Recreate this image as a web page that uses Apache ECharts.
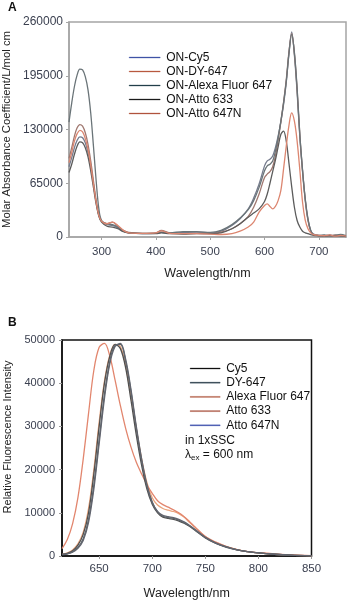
<!DOCTYPE html>
<html>
<head>
<meta charset="utf-8">
<script src="https://cdn.jsdelivr.net/npm/echarts@6/dist/echarts.min.js"></script>
<style>
  html, body { margin: 0; padding: 0; background: #fff; }
  #chart { width: 353px; height: 603px; }
</style>
</head>
<body>
<div id="chart"></div>
<script>
// 吸收光谱 (A)
var wlA = [240, 245, 250, 255, 260, 265, 270, 275, 280, 285, 290, 295, 300, 310, 320, 330, 340, 350, 375, 400,
  410, 425, 450, 475, 500, 520, 540, 555, 570, 580, 590, 600, 605, 610, 615, 620, 625, 630, 635, 640,
  645, 650, 655, 660, 665, 670, 675, 680, 685, 690, 700, 710, 720, 730, 740, 750];
var namesA = ['ON-Cy5', 'ON-DY-647', 'ON-Alexa Fluor 647', 'ON-Atto 633', 'ON-Atto 647N'];
var cy5A = [85000, 96000, 108000, 117000, 121000, 120000, 114000, 102000, 86000, 64000, 42000, 26000, 19000, 15000, 14000, 11000, 7000, 5000, 4000, 4500,
  5500, 4500, 5500, 6000, 5000, 7000, 14000, 22000, 34000, 47000, 64000, 86000, 92000, 94000, 98000, 108000, 122000, 139000, 160000, 187000,
  222000, 248000, 220000, 175000, 121000, 80000, 45000, 21000, 8000, 3500, 2000, 1500, 2500, 1500, 2000, 1000];
var dy647A = [95000, 108000, 122000, 132000, 136000, 134000, 126000, 112000, 92000, 68000, 44000, 27000, 19000, 16000, 18000, 13000, 8000, 5500, 4500, 5000,
  8000, 5000, 4000, 4500, 4000, 6000, 10000, 16000, 25000, 36000, 52000, 72000, 76000, 79000, 85000, 98000, 117000, 139000, 163000, 190000,
  224000, 246000, 222000, 178000, 123000, 79000, 44000, 20000, 7000, 3000, 1500, 2000, 1000, 2500, 1500, 2000];
var alexaA = [139000, 162000, 182000, 196000, 203000, 202000, 194000, 178000, 150000, 110000, 68000, 34000, 20000, 16000, 15000, 12000, 7000, 5000, 4500, 4500,
  6000, 5000, 6500, 6500, 5500, 8000, 15000, 23000, 33000, 44000, 60000, 80000, 86000, 88000, 92000, 104000, 120000, 140000, 162000, 188000,
  222000, 245000, 223000, 180000, 124000, 81000, 46000, 22000, 8000, 3000, 2000, 2500, 1500, 2000, 3000, 1500];
var atto633A = [78000, 88000, 100000, 110000, 115000, 114000, 108000, 97000, 80000, 60000, 40000, 25000, 18000, 13000, 12000, 10000, 6500, 5000, 4000, 4000,
  5000, 4000, 3500, 4000, 4000, 5000, 10000, 16000, 24000, 29000, 34000, 43000, 52000, 65000, 79000, 93000, 109000, 124000, 128000, 116000,
  89000, 61000, 36000, 20000, 12000, 7000, 5000, 4000, 3000, 2000, 1500, 1000, 2000, 1000, 1500, 500];
var atto647nA = [90000, 102000, 116000, 125000, 129000, 127000, 119000, 106000, 87000, 64000, 42000, 26000, 19000, 16000, 18000, 14000, 8000, 5000, 4500, 5000,
  7500, 4500, 4000, 4000, 3500, 3000, 4000, 7000, 12000, 18000, 30000, 38000, 40000, 37000, 34000, 37000, 44000, 56000, 82000, 110000,
  135000, 150000, 140000, 116000, 81000, 42000, 20000, 10000, 5000, 3000, 2000, 1500, 2500, 1000, 2000, 1000];
var yTicksA = [0, 65000, 130000, 195000, 260000];
var xTicksA = [300, 400, 500, 600, 700];

// 荧光发射光谱 (B)
var wlB = [615, 620, 625, 630, 635, 640, 645, 650, 655, 660, 665, 670, 675, 680, 685, 690, 695, 700, 705, 710,
  715, 720, 725, 730, 735, 740, 750, 760, 770, 780, 790, 800, 815, 830, 850];
var namesB = ['Cy5', 'DY-647', 'Alexa Fluor 647', 'Atto 633', 'Atto 647N'];
var cy5B = [400, 600, 1200, 2500, 5000, 10000, 19000, 30000, 40000, 46200, 49000, 48000, 43500, 36000, 28000, 21000, 15500, 12000, 10000, 9000,
  8700, 8500, 8100, 7600, 6900, 6000, 4200, 2900, 2000, 1400, 1000, 700, 400, 200, 50];
var dy647B = [300, 500, 1000, 2000, 4000, 8500, 16500, 27000, 37500, 45000, 48800, 49000, 45000, 38000, 29500, 22000, 16200, 12300, 10200, 9200,
  8900, 8700, 8300, 7700, 7000, 6100, 4300, 3000, 2100, 1400, 1000, 700, 400, 200, 50];
var alexaB = [400, 700, 1400, 2800, 5500, 11000, 20000, 31000, 40500, 46500, 49000, 48500, 44000, 37000, 29500, 22500, 17000, 13500, 11800, 11000,
  10600, 10300, 9800, 9000, 7800, 6700, 4500, 3100, 2200, 1500, 1000, 700, 400, 200, 50];
var atto633B = [1700, 3800, 7500, 13500, 22500, 33000, 43000, 48300, 49200, 46300, 40700, 34800, 29500, 25200, 21700, 19000, 16500, 14500, 12800, 11900,
  11300, 10700, 10000, 9100, 8000, 6800, 4500, 3200, 2200, 1500, 1000, 800, 500, 300, 100];
var atto647nB = [300, 500, 900, 1800, 3600, 7800, 15500, 26000, 36500, 44500, 48500, 49200, 45500, 38500, 30000, 22500, 16500, 12500, 10300, 9400,
  9100, 8900, 8500, 7900, 7100, 6200, 4300, 3000, 2100, 1400, 1000, 700, 400, 200, 50];
var yTicksB = [0, 10000, 20000, 30000, 40000, 50000];
var xTicksB = [650, 700, 750, 800, 850];

var chart = echarts.init(document.getElementById('chart'));

var FONT = 'Liberation Sans';
var labelColor = '#3b4050';

function pairs(xs, ys) {
  return xs.map(function (x, i) { return [x, ys[i]]; });
}
function plain(v) { return String(v); }

// 曲线颜色 (图中) 与图例颜色分开设置
var lineColorsA = ['#767c8e', '#a07870', '#6a7478', '#5c5c5c', '#dc8670'];
var legendColorsA = ['#3f55a8', '#b85a40', '#22404a', '#1a1a1a', '#b0553c'];
var lineColorsB = ['#505050', '#5c6468', '#eaa47c', '#e2866e', '#62656f'];
var legendColorsB = ['#111111', '#1f3440', '#b05a42', '#a8503c', '#3446a8'];
var zB = [3, 3, 1, 2, 3];

var dataA = [cy5A, dy647A, alexaA, atto633A, atto647nA];
var dataB = [cy5B, dy647B, alexaB, atto633B, atto647nB];

var series = [];
namesA.forEach(function (n, i) {
  series.push({
    name: n, type: 'line', xAxisIndex: 0, yAxisIndex: 0,
    data: pairs(wlA, dataA[i]), showSymbol: false, smooth: 0.35,
    lineStyle: { color: lineColorsA[i], width: 1.3 },
    itemStyle: { color: legendColorsA[i], borderWidth: 0 }
  });
});
namesB.forEach(function (n, i) {
  series.push({
    name: n, type: 'line', xAxisIndex: 1, yAxisIndex: 1, z: zB[i],
    data: pairs(wlB, dataB[i]), showSymbol: false, smooth: 0.35,
    lineStyle: { color: lineColorsB[i], width: 1.3 },
    itemStyle: { color: legendColorsB[i], borderWidth: 0 }
  });
});

function legendItem(n, c) {
  return {
    name: n,
    itemStyle: { color: c, borderColor: c, borderWidth: 0.3 },
    lineStyle: { color: c, width: 1 }
  };
}

var option = {
  animation: false,
  textStyle: { fontFamily: FONT },
  grid: [
    { left: 69, top: 22, right: 7, bottom: 366, show: true, borderColor: '#a5a5a5', borderWidth: 1.5, outerBoundsMode: 'none' },
    { left: 62, top: 340, right: 41.5, bottom: 47, show: true, borderColor: '#111', borderWidth: 1.5, outerBoundsMode: 'none' }
  ],
  xAxis: [{
    gridIndex: 0, type: 'value', min: 240, max: 750,
    name: 'Wavelength/nm', nameLocation: 'middle', nameGap: 30,
    nameTextStyle: { fontSize: 12.5, color: '#222', fontFamily: FONT },
    axisLine: { lineStyle: { color: '#a5a5a5', width: 1.5 } },
    axisTick: { length: 3, lineStyle: { color: '#a5a5a5' }, customValues: xTicksA },
    axisLabel: { fontSize: 11.5, color: labelColor, margin: 9, customValues: xTicksA, formatter: plain },
    splitLine: { show: false }
  }, {
    gridIndex: 1, type: 'value', min: 615, max: 850,
    name: 'Wavelength/nm', nameLocation: 'middle', nameGap: 31,
    nameTextStyle: { fontSize: 12.5, color: '#222', fontFamily: FONT },
    axisLine: { lineStyle: { color: '#111', width: 1.5 } },
    axisTick: { length: 3, lineStyle: { color: '#999' }, customValues: xTicksB },
    axisLabel: { fontSize: 11.5, color: labelColor, margin: 7, customValues: xTicksB, formatter: plain },
    splitLine: { show: false }
  }],
  yAxis: [{
    gridIndex: 0, type: 'value', min: 0, max: 260000,
    name: 'Molar Absorbance Coefficient/L/mol cm', nameLocation: 'middle', nameGap: 51,
    nameTextStyle: { fontSize: 11.3, color: '#222', fontFamily: FONT },
    axisLine: { lineStyle: { color: '#a5a5a5', width: 1.5 } },
    axisTick: { length: 3, lineStyle: { color: '#a5a5a5' }, customValues: yTicksA },
    axisLabel: { fontSize: 12, color: labelColor, margin: 6, customValues: yTicksA, formatter: plain },
    splitLine: { show: false }
  }, {
    gridIndex: 1, type: 'value', min: 0, max: 50000,
    name: 'Relative Fluorescence Intensity', nameLocation: 'middle', nameGap: 43,
    nameTextStyle: { fontSize: 11, color: '#222', fontFamily: FONT, padding: [0, 0, 0, 22] },
    axisLine: { lineStyle: { color: '#111', width: 1.5 } },
    axisTick: { length: 3, lineStyle: { color: '#999' }, customValues: yTicksB },
    axisLabel: { fontSize: 11, color: labelColor, margin: 7, customValues: yTicksB, formatter: plain },
    splitLine: { show: false }
  }],
  legend: [{
    orient: 'vertical', left: 124, top: 45.5, icon: 'rect',
    itemWidth: 31, itemHeight: 1, itemGap: 0,
    textStyle: { fontSize: 12, lineHeight: 14, color: '#111', fontFamily: FONT, padding: [0, 0, 0, 1] },
    data: namesA.map(function (n, i) { return legendItem(n, legendColorsA[i]); })
  }, {
    orient: 'vertical', left: 185, top: 356.5, icon: 'rect',
    itemWidth: 30, itemHeight: 1, itemGap: 0.2,
    textStyle: { fontSize: 12, lineHeight: 14, color: '#111', fontFamily: FONT, padding: [0, 0, 0, 1] },
    data: namesB.map(function (n, i) { return legendItem(n, legendColorsB[i]); })
  }],
  graphic: [
    { type: 'text', left: 8, top: 2, style: { text: 'A', font: 'bold 12px Liberation Sans', fill: '#111' } },
    { type: 'text', left: 8, top: 317, style: { text: 'B', font: 'bold 12px Liberation Sans', fill: '#111' } },
    { type: 'text', left: 185, top: 435, style: { text: 'in 1xSSC', font: '12px Liberation Sans', fill: '#111' } },
    {
      type: 'text', left: 185, top: 449,
      style: {
        text: '{a|λ}{s|ex}{a| = 600 nm}',
        rich: {
          a: { fontSize: 12, fontFamily: FONT, fill: '#111' },
          s: { fontSize: 8, fontFamily: FONT, fill: '#111', verticalAlign: 'bottom', padding: [5, 0, 0, 0] }
        }
      }
    }
  ],
  series: series
};

chart.setOption(option);
</script>
</body>
</html>
